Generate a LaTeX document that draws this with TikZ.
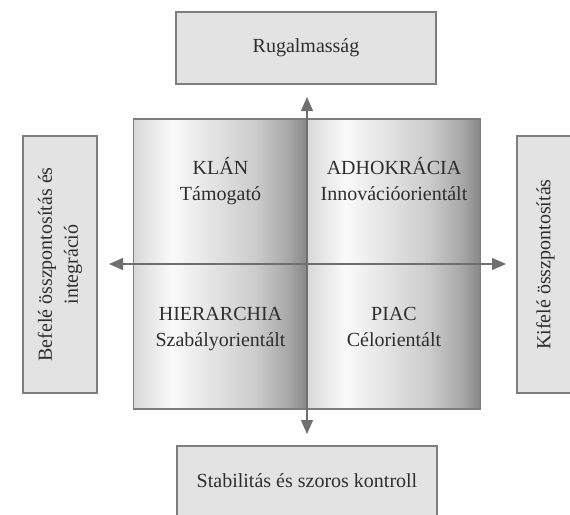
\documentclass[tikz,border=0pt]{standalone}
\usepackage{fontspec}
\setmainfont{Liberation Serif}
\usepackage{xcolor}
\usepackage{tikz}
\usetikzlibrary{arrows.meta}
\definecolor{boxfill}{HTML}{E3E3E3}
\definecolor{boxline}{HTML}{7E7E7E}
\definecolor{axisgray}{HTML}{6F6F6F}
\definecolor{inkgray}{HTML}{2E2E2E}
\pgfdeclarehorizontalshading{quadshade}{100bp}{color(0bp)=(gray!30); color(25bp)=(gray!30); color(36bp)=(gray!4); color(60bp)=(gray!40); color(70bp)=(gray!70); color(75bp)=(gray!95); color(100bp)=(gray!95)}
\newcommand{\bigtext}{\fontsize{20}{26}\selectfont}
\tikzset{
  sidebox/.style={
    rectangle, draw=boxline, line width=1.3pt, fill=boxfill,
    inner sep=0pt, align=center, font=\bigtext, text=inkgray
  },
  quadcell/.style={
    rectangle, draw=boxline, line width=1.2pt, shade, shading=quadshade,
    minimum width=173.5pt, minimum height=145pt, inner sep=0pt
  },
  quadlabel/.style={anchor=base, font=\bigtext, text=inkgray, inner sep=0pt},
  axisarrow/.style={{Triangle[length=14pt,width=12pt]}-{Triangle[length=14pt,width=12pt]}, line width=1.3pt, color=axisgray},
}

\begin{document}
\begin{tikzpicture}[x=1pt, y=-1pt]
  \useasboundingbox (0,0) rectangle (570,514);
  % the four outer boxes
  \node[sidebox, minimum width=260pt, minimum height=72pt] (flex) at (306,48) {Rugalmasság};
  \node[sidebox, minimum width=260pt, minimum height=70pt] (stab) at (307,481) {Stabilitás és szoros kontroll};
  \node[sidebox, rotate=90, minimum width=257pt, minimum height=74pt] (inward) at (60,264.5) {Befelé összpontosítás és\\integráció};
  \node[sidebox, rotate=90, minimum width=257pt, minimum height=57pt] (outward) at (545.5,264.5) {Kifelé összpontosítás};
  % quadrants
  \node[quadcell] (klancell) at (220.5,191.5) {};
  \node[quadcell] (adhocell) at (394,191.5) {};
  \node[quadcell] (hiercell) at (220.5,336.5) {};
  \node[quadcell] (piaccell) at (394,336.5) {};
  \node[quadlabel] (klan) at (220.5,174) {KLÁN};
  \node[quadlabel] (klansub) at (220.5,200) {Támogató};
  \node[quadlabel] (adho) at (394,174) {ADHOKRÁCIA};
  \node[quadlabel] (adhosub) at (394,200) {Innovációorientált};
  \node[quadlabel] (hier) at (220.5,320) {HIERARCHIA};
  \node[quadlabel] (hiersub) at (220.5,346) {Szabályorientált};
  \node[quadlabel] (piac) at (394,320) {PIAC};
  \node[quadlabel] (piacsub) at (394,346) {Célorientált};
  % axes
  \coordinate (north) at (307,97);
  \coordinate (south) at (307,434);
  \coordinate (west) at (109,264);
  \coordinate (east) at (506,264);
  \draw[axisarrow] (south) -- (north);
  \draw[axisarrow] (west) -- (east);
\end{tikzpicture}
\end{document}
